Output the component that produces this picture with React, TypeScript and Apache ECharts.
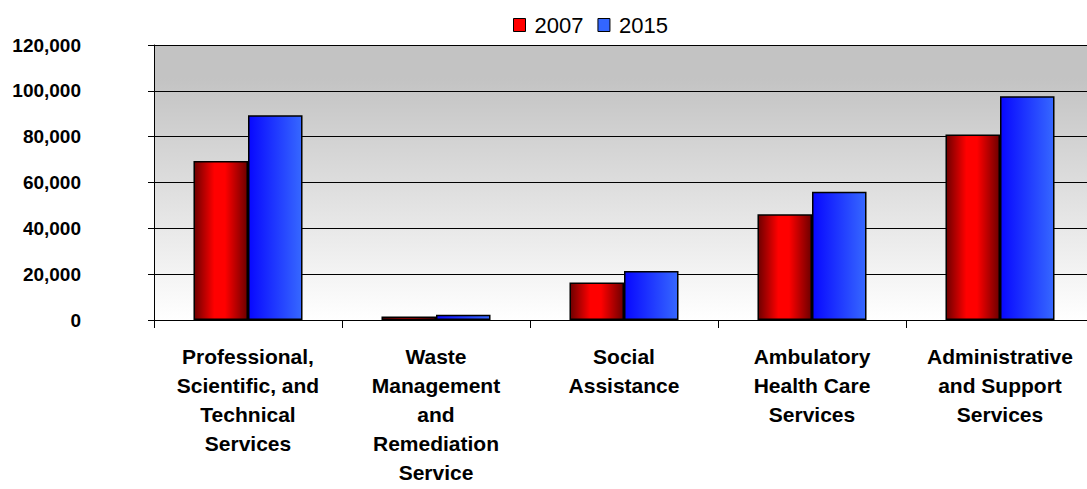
import React, { useEffect, useRef } from "react";
import * as echarts from "echarts";

const categories = [
  "Professional,\nScientific, and\nTechnical\nServices",
  "Waste\nManagement\nand\nRemediation\nService",
  "Social\nAssistance",
  "Ambulatory\nHealth Care\nServices",
  "Administrative\nand Support\nServices",
];
const values2007 = [69400, 1500, 16400, 46100, 81000];
const values2015 = [89300, 2300, 21400, 56000, 97600];
const seriesNames = ["2007", "2015"];
const yTicks = { min: 0, max: 120000, interval: 20000 };

const FONT = "'Liberation Sans', Arial, sans-serif";

export default function App() {
  const ref = useRef<HTMLDivElement>(null);
  useEffect(() => {
    if (!ref.current) return;
    const chart = echarts.init(ref.current, undefined, { renderer: "svg" });
    const redGrad = new echarts.graphic.LinearGradient(0, 0, 1, 0, [
      { offset: 0, color: "#6e0000" },
      { offset: 0.38, color: "#ff0000" },
      { offset: 0.58, color: "#ff0000" },
      { offset: 1, color: "#6e0000" },
    ]);
    const blueGrad = new echarts.graphic.LinearGradient(0, 0, 1, 0, [
      { offset: 0, color: "#0808ff" },
      { offset: 1, color: "#3668ff" },
    ]);
    chart.setOption({
      animation: false,
      textStyle: { fontFamily: FONT },
      legend: {
        left: 508,
        top: 9,
        itemWidth: 12,
        itemHeight: 13,
        itemGap: 14,
        icon: "rect",
        textStyle: { fontSize: 22, color: "#000", fontFamily: FONT, padding: [0, 0, 0, 4] },
        data: [
          { name: seriesNames[0], itemStyle: { color: "#ff0000", borderColor: "#000", borderWidth: 1 } },
          { name: seriesNames[1], itemStyle: { color: "#3366ff", borderColor: "#000", borderWidth: 1 } },
        ],
      },
      grid: {
        left: 154,
        top: 45,
        width: 940,
        bottom: 169,
        show: true,
        borderWidth: 0,
        backgroundColor: new echarts.graphic.LinearGradient(0, 0, 0, 1, [
          { offset: 0, color: "#c3c3c3" },
          { offset: 0.12, color: "#c3c3c3" },
          { offset: 1, color: "#ffffff" },
        ]),
      },
      xAxis: {
        type: "category",
        data: categories,
        axisLine: { lineStyle: { color: "#000", width: 1 } },
        axisTick: { show: true, length: 8, lineStyle: { color: "#000" } },
        axisLabel: {
          interval: 0,
          margin: 22,
          fontSize: 21,
          fontWeight: "bold",
          color: "#000",
          lineHeight: 29,
          align: "center",
          fontFamily: FONT,
        },
      },
      yAxis: {
        type: "value",
        min: yTicks.min,
        max: yTicks.max,
        interval: yTicks.interval,
        axisLine: { show: true, lineStyle: { color: "#000", width: 1 } },
        axisTick: { show: true, length: 6, lineStyle: { color: "#000" } },
        splitLine: { show: true, lineStyle: { color: "#000", width: 1 } },
        axisLabel: {
          margin: 73,
          fontSize: 19,
          fontWeight: "bold",
          color: "#000",
          fontFamily: FONT,
          formatter: (v: number) => v.toLocaleString("en-US"),
        },
      },
      series: [
        {
          name: seriesNames[0],
          type: "bar",
          data: values2007,
          barWidth: "29%",
          barGap: "0%",
          itemStyle: { color: redGrad, borderColor: "#000", borderWidth: 1.5 },
        },
        {
          name: seriesNames[1],
          type: "bar",
          data: values2015,
          barWidth: "29%",
          barGap: "0%",
          itemStyle: { color: blueGrad, borderColor: "#000", borderWidth: 1.5 },
        },
      ],
    });
    return () => chart.dispose();
  }, []);
  return (
    <div style={{ width: 1087, height: 489, position: "absolute", left: 0, top: 0, overflow: "hidden" }}>
      <div ref={ref} style={{ width: 1100, height: 489 }} />
    </div>
  );
}
